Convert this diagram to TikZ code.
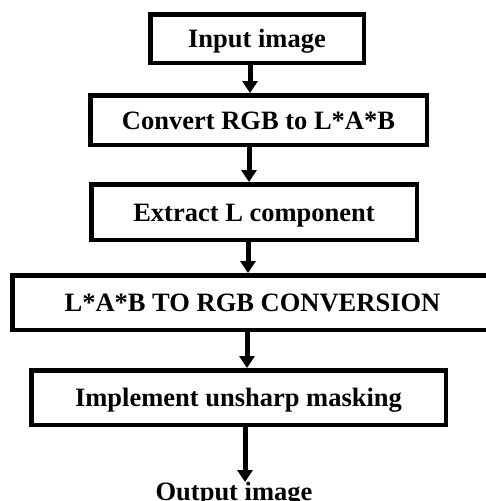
\documentclass[tikz,border=0pt]{standalone}
\usepackage{fontspec}
\setmainfont{Liberation Serif}
\usetikzlibrary{arrows.meta}
\begin{document}
\begin{tikzpicture}[x=1pt,y=-1pt]
\useasboundingbox (0,0) rectangle (486,501);
\tikzstyle{every node}=[font=\bfseries\fontsize{26.5}{30}\selectfont,text height=18pt,text depth=0pt,inner sep=0pt];
\tikzstyle{box}=[draw,line width=4.5pt,shape=rectangle];
\tikzstyle{arr}=[line width=5pt,-{Triangle[width=15pt,length=12pt]}];
\node[box,minimum width=213.5pt,minimum height=48.5pt] (1) at (257,38.5) {Input image};
\node[box,minimum width=336.5pt,minimum height=49.5pt] (2) at (258.5,120) {Convert RGB to L*A*B};
\node[box,minimum width=325.5pt,minimum height=55.5pt] (3) at (254,212) {Extract L component};
\node[box,minimum width=480.5pt,minimum height=54.5pt] (4) at (252.5,302.5) {L*A*B TO RGB CONVERSION};
\node[box,minimum width=414.5pt,minimum height=54.5pt] (5) at (238.5,397.5) {Implement unsharp masking};
\node[anchor=north] (o) at (234,482) {Output image};
\draw[arr] ([xshift=-7pt]1.south) -- ([xshift=-7pt]1.south |- 2.north);
\draw[arr] ([xshift=-9.5pt]2.south) -- ([xshift=-9.5pt]2.south |- 3.north);
\draw[arr] ([xshift=-6pt]3.south) -- ([xshift=-6pt]3.south |- 4.north);
\draw[arr] ([xshift=-5.5pt]4.south) -- ([xshift=-5.5pt]4.south |- 5.north);
\draw[arr] ([xshift=6.5pt]5.south) -- ([xshift=6.5pt]5.south |- o.north);
\end{tikzpicture}
\end{document}
